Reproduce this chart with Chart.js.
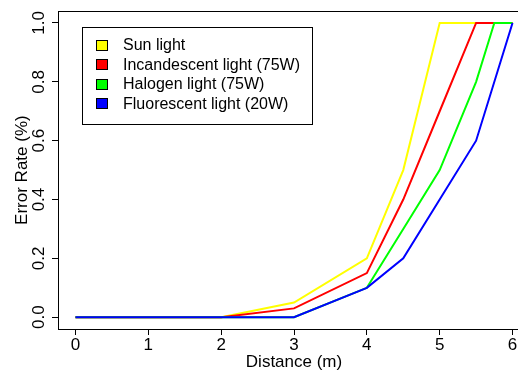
<!DOCTYPE html>
<html>
<head>
<meta charset="utf-8">
<script src="https://cdn.jsdelivr.net/npm/chart.js@4.4.1/dist/chart.umd.min.js"></script>
<style>
html,body{margin:0;padding:0;background:#fff;overflow:hidden;width:518px;height:374px;}
#wrap{position:absolute;left:0;top:0;width:530px;height:374px;}
</style>
</head>
<body>
<div id="wrap"><canvas id="c" width="530" height="374"></canvas></div>
<script>
// ---- data ----
const seriesNames = ["Sun light", "Incandescent light (75W)", "Halogen light (75W)", "Fluorescent light (20W)"];
const seriesColors = ["#ffff00", "#ff0000", "#00ff00", "#0000ff"];
const sunX = [0, 1, 2, 3, 4, 4.5, 5, 5.5, 6];
const sunY = [0, 0, 0, 0.05, 0.2, 0.5, 1.0, 1.0, 1.0];
const incX = [0, 1, 2, 3, 4, 4.5, 5, 5.5, 6];
const incY = [0, 0, 0, 0.03, 0.15, 0.4, 0.7, 1.0, 1.0];
const halX = [0, 1, 2, 3, 4, 4.5, 5, 5.5, 5.75, 6];
const halY = [0, 0, 0, 0, 0.1, 0.3, 0.5, 0.8, 1.0, 1.0];
const fluX = [0, 1, 2, 3, 4, 4.5, 5, 5.5, 6];
const fluY = [0, 0, 0, 0, 0.1, 0.2, 0.4, 0.6, 1.0];
const xTicks = [0, 1, 2, 3, 4, 5, 6];
const yTicks = [0, 0.2, 0.4, 0.6, 0.8, 1.0];
const xTitle = "Distance (m)";
const yTitle = "Error Rate (%)";

const seriesX = [sunX, incX, halX, fluX];
const seriesY = [sunY, incY, halY, fluY];

const FONT = "'Liberation Sans', Arial, Helvetica, sans-serif";

const datasets = seriesNames.map((name, i) => ({
  label: name,
  data: seriesX[i].map((x, j) => ({x: x, y: seriesY[i][j]})),
  borderColor: seriesColors[i],
  backgroundColor: seriesColors[i],
  borderWidth: 2,
  pointRadius: 0,
  tension: 0,
  fill: false,
  order: seriesNames.length - 1 - i
}));

const boxPlugin = {
  id: 'box',
  afterDraw(chart) {
    const {ctx, chartArea: a} = chart;
    ctx.save();
    ctx.strokeStyle = '#000';
    ctx.lineWidth = 1;
    ctx.strokeRect(Math.round(a.left) + 0.5, Math.round(a.top) + 0.5, Math.round(a.right - a.left), Math.round(a.bottom - a.top));
    ctx.restore();
  }
};

const legendPlugin = {
  id: 'innerLegend',
  afterDatasetsDraw(chart) {
    const {ctx, chartArea: a} = chart;
    const bx = Math.round(a.left) + 24, by = Math.round(a.top) + 16;
    const bw = 230, bh = 97;
    ctx.save();
    ctx.fillStyle = '#fff';
    ctx.fillRect(bx, by, bw, bh);
    ctx.strokeStyle = '#000';
    ctx.lineWidth = 1;
    ctx.strokeRect(bx + 0.5, by + 0.5, bw, bh);
    ctx.font = "16px " + FONT;
    ctx.textBaseline = 'middle';
    ctx.textAlign = 'left';
    chart.data.datasets.forEach((ds, i) => {
      const cy = by + 18 + i * 19.5;
      ctx.fillStyle = ds.borderColor;
      ctx.fillRect(bx + 14, Math.round(cy - 5.5), 12, 11);
      ctx.strokeStyle = '#000';
      ctx.strokeRect(bx + 14.5, Math.round(cy - 5.5) + 0.5, 11, 10);
      ctx.fillStyle = '#000';
      ctx.fillText(ds.label, bx + 41, cy + 1);
    });
    ctx.restore();
  }
};

new Chart(document.getElementById('c'), {
  type: 'line',
  data: {datasets: datasets},
  options: {
    responsive: false,
    animation: false,
    devicePixelRatio: 1,
    layout: {padding: {top: 10, left: 0, right: 0, bottom: 0}},
    plugins: {legend: {display: false}, tooltip: {enabled: false}},
    scales: {
      x: {
        type: 'linear',
        min: -0.24, max: 6.24,
        afterBuildTicks(s) { s.ticks = xTicks.map(v => ({value: v})); },
        afterFit(s) { s.height = 45; },
        grid: {display: true, drawOnChartArea: false, drawTicks: true, tickLength: 6, color: '#000'},
        border: {display: true, color: '#000', width: 1},
        ticks: {color: '#000', font: {family: FONT, size: 17}, padding: 0, maxRotation: 0, autoSkip: false,
                callback: v => String(v)},
        title: {display: true, text: xTitle, color: '#000', font: {family: FONT, size: 17}, padding: {top: 0, bottom: 1}}
      },
      y: {
        type: 'linear',
        min: -0.04, max: 1.04,
        afterBuildTicks(s) { s.ticks = yTicks.map(v => ({value: v})); },
        afterFit(s) { s.width = 58; },
        grid: {display: true, drawOnChartArea: false, drawTicks: true, tickLength: 6, color: '#000'},
        border: {display: true, color: '#000', width: 1},
        ticks: {color: '#000', font: {family: FONT, size: 17}, padding: 1, minRotation: 90, maxRotation: 90,
                crossAlign: 'center', autoSkip: false, callback: v => Number(v).toFixed(1)},
        title: {display: true, text: yTitle, color: '#000', font: {family: FONT, size: 17}, padding: {top: 12, bottom: 0}}
      }
    }
  },
  plugins: [boxPlugin, legendPlugin]
});
</script>
</body>
</html>
